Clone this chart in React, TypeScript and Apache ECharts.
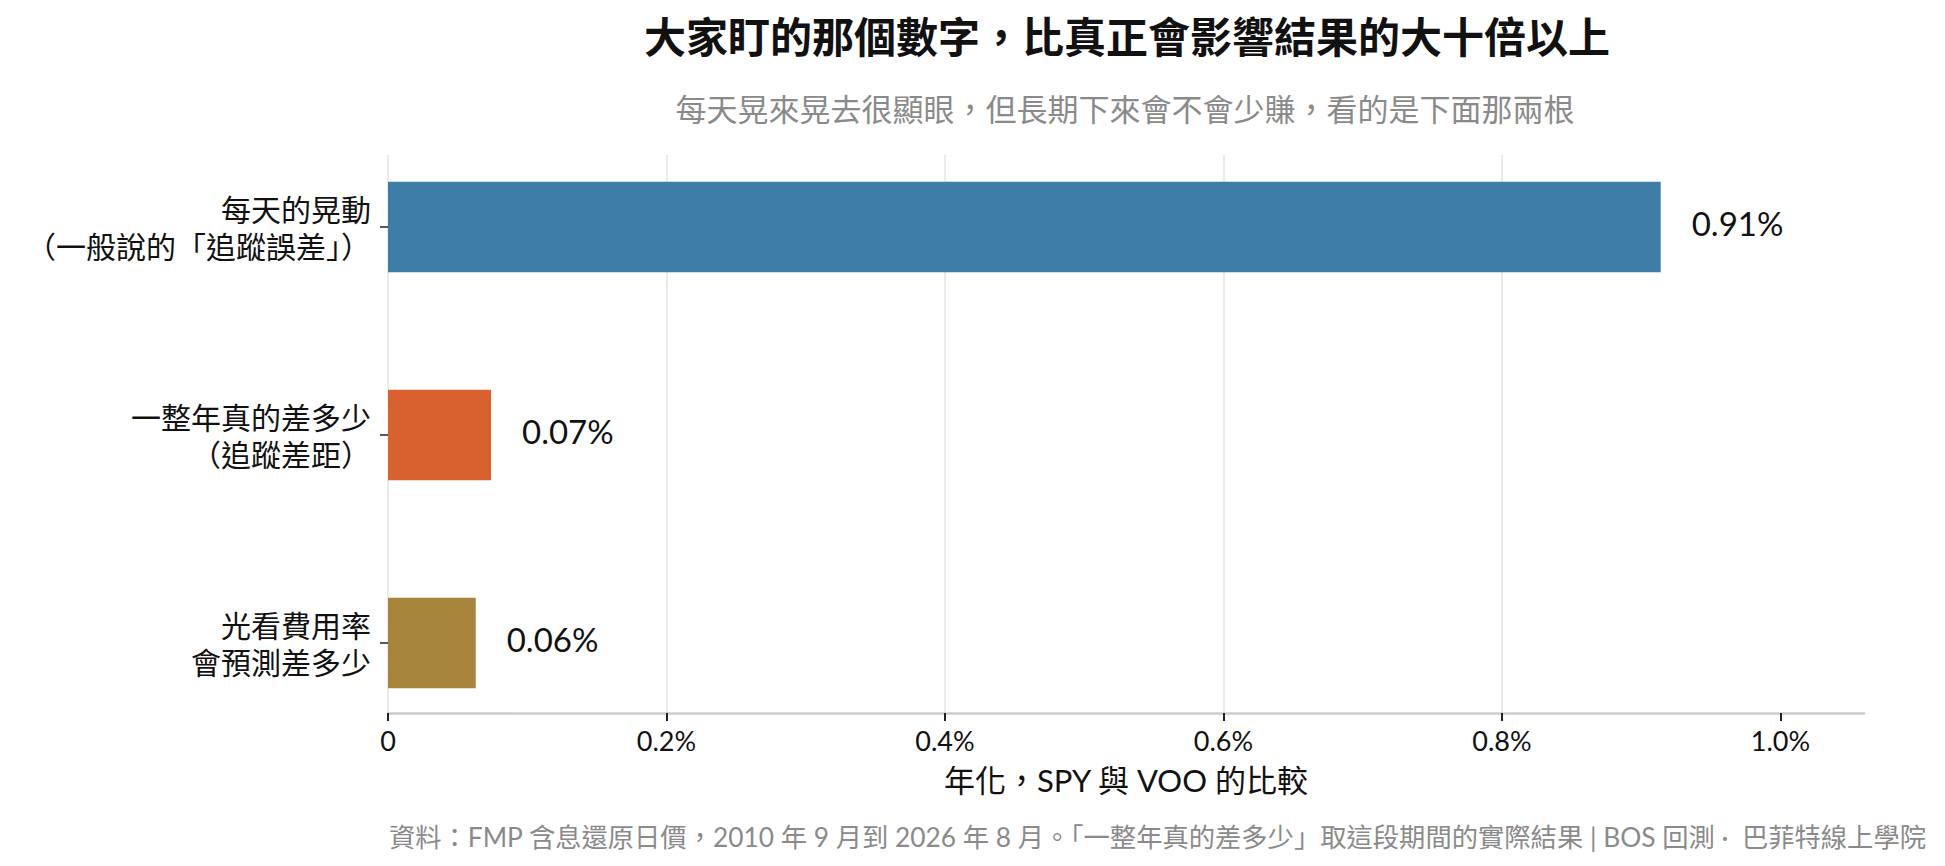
import { useEffect, useRef } from "react";
import * as echarts from "echarts";

// chart data
const categories = [
  "每天的晃動\n（一般說的「追蹤誤差」）",
  "一整年真的差多少\n（追蹤差距）",
  "光看費用率\n會預測差多少",
];
const values = [0.914, 0.074, 0.063];
const barColors = ["#3d7da6", "#d96130", "#a7863c"];
const xTicks = [0, 0.2, 0.4, 0.6, 0.8, 1.0];

const titleText = "大家盯的那個數字，比真正會影響結果的大十倍以上";
const subtitleText = "每天晃來晃去很顯眼，但長期下來會不會少賺，看的是下面那兩根";
const axisName = "年化，SPY 與 VOO 的比較";
const footerText =
  "資料：FMP 含息還原日價，2010 年 9 月到 2026 年 8 月。「一整年真的差多少」取這段期間的實際結果 | BOS 回測 ·  巴菲特線上學院";

const FONT = "Lato, 'Noto Sans CJK TC', sans-serif";

const fmtTick = (v: number) => (v === 0 ? "0" : v.toFixed(1) + "%");

const App = () => {
  const chartRef = useRef<HTMLDivElement>(null);

  useEffect(() => {
    document.body.style.margin = "0";
    if (!chartRef.current) return;
    const chart = echarts.init(chartRef.current, null, { renderer: "svg" });

    const option: echarts.EChartsOption = {
      animation: false,
      backgroundColor: "#ffffff",
      textStyle: { fontFamily: FONT },
      graphic: [
        {
          type: "text",
          x: 1127,
          y: 37,
          style: {
            text: titleText,
            fontSize: 42,
            fontWeight: "bold",
            fontFamily: FONT,
            fill: "#111111",
            align: "center",
            verticalAlign: "middle",
          },
        },
        {
          type: "text",
          x: 1125,
          y: 109,
          style: {
            text: subtitleText,
            fontSize: 31,
            fontFamily: FONT,
            fill: "#8a8a8a",
            align: "center",
            verticalAlign: "middle",
          },
        },
        {
          type: "text",
          x: 1926,
          y: 837,
          style: {
            text: footerText,
            fontSize: 26.3,
            fontFamily: FONT,
            fill: "#8a8a8a",
            align: "right",
            verticalAlign: "middle",
          },
        },
      ],
      grid: [
        // axis / gridline frame
        { left: 388, width: 1476, top: 155, height: 558 },
        // bars
        { left: 388, width: 1476, top: 123, height: 624 },
      ],
      xAxis: [
        {
          type: "value",
          gridIndex: 0,
          min: 0,
          max: 1.06,
          interval: 0.2,
          axisLine: { show: true, lineStyle: { color: "#cccccc", width: 2.5 } },
          axisTick: {
            show: true,
            length: 8,
            customValues: xTicks,
            lineStyle: { color: "#222222", width: 2 },
          },
          axisLabel: {
            customValues: xTicks,
            formatter: (v: number) => fmtTick(v),
            fontSize: 27,
            color: "#111111",
            margin: 14,
            fontFamily: FONT,
          },
          splitLine: {
            show: true,
            showMaxLine: false,
            lineStyle: { color: "#e5e5e5", width: 1.5 },
          },
          name: axisName,
          nameLocation: "middle",
          nameGap: 51,
          nameTextStyle: { fontSize: 31, color: "#111111", fontFamily: FONT },
        },
        {
          type: "value",
          gridIndex: 1,
          min: 0,
          max: 1.06,
          show: false,
        },
      ],
      yAxis: [
        { type: "value", gridIndex: 0, show: false },
        {
          type: "category",
          gridIndex: 1,
          data: categories,
          inverse: true,
          axisLine: { show: false },
          axisTick: {
            show: true,
            alignWithLabel: true,
            length: 8,
            lineStyle: { color: "#222222", width: 1.5 },
          },
          axisLabel: {
            fontSize: 30,
            lineHeight: 37,
            color: "#111111",
            margin: 17,
            align: "right",
            fontFamily: FONT,
          },
          splitLine: { show: false },
        },
      ],
      series: [
        {
          type: "bar",
          xAxisIndex: 1,
          yAxisIndex: 1,
          barWidth: "43.5%",
          data: values.map((v, i) => ({
            value: v,
            itemStyle: { color: barColors[i] },
          })),
          label: {
            show: true,
            position: "right",
            distance: 31,
            offset: [0, -4],
            fontSize: 33,
            color: "#111111",
            fontFamily: FONT,
            formatter: (p: any) => p.value.toFixed(2) + "%",
          },
        },
      ],
    };

    chart.setOption(option);
    return () => chart.dispose();
  }, []);

  return <div ref={chartRef} style={{ width: 1945, height: 866 }} />;
};

export default App;
